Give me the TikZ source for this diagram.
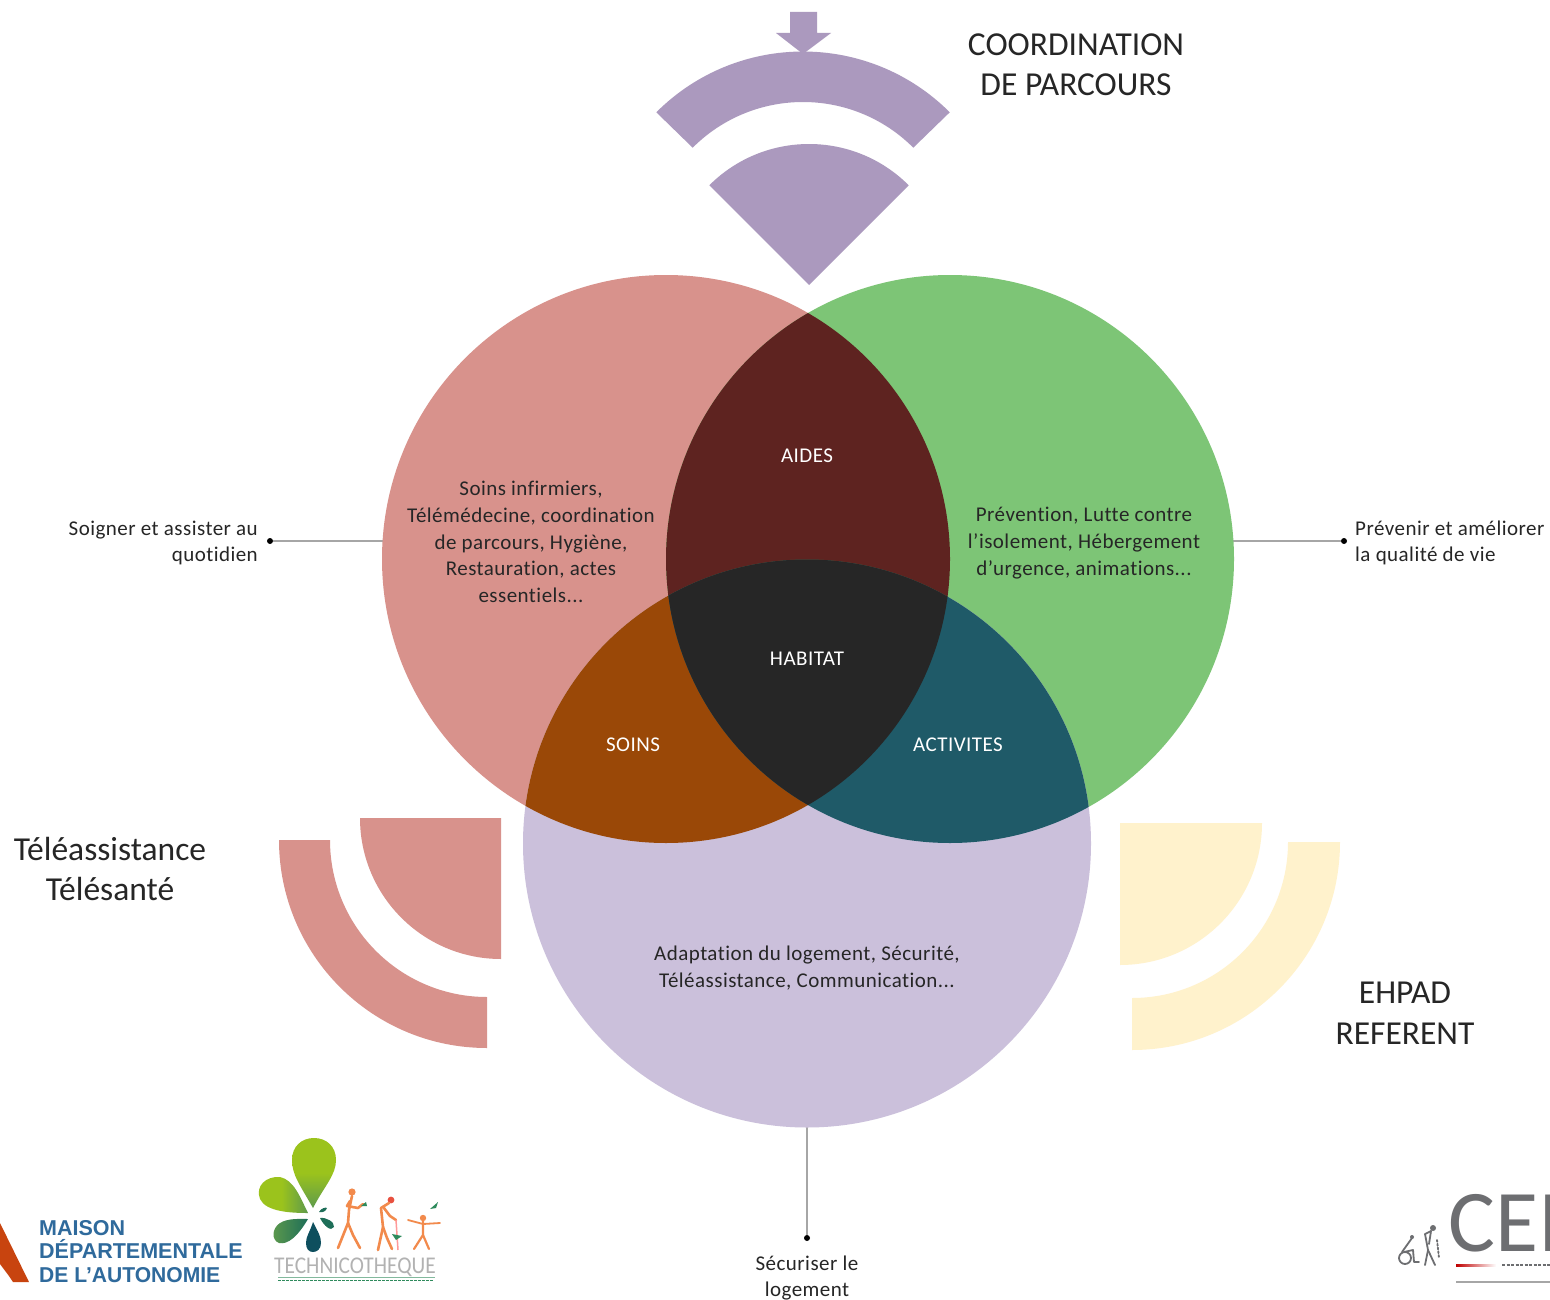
\documentclass[tikz,border=0pt]{standalone}
\usepackage{fontspec}
\setmainfont{Carlito}
\newfontfamily\arialfont{Liberation Sans}
\newfontfamily\spacedfont[LetterSpace=2.2,Ligatures=NoCommon]{Carlito}
\definecolor{cRed}{HTML}{D8928C}
\definecolor{cGreen}{HTML}{7DC576}
\definecolor{cLav}{HTML}{CBC0DB}
\definecolor{cPurple}{HTML}{AB99BE}
\definecolor{cCream}{HTML}{FFF2CC}
\definecolor{cRG}{HTML}{5E2320}
\definecolor{cRL}{HTML}{9A4807}
\definecolor{cGL}{HTML}{1F5A68}
\definecolor{cAll}{HTML}{262626}
\definecolor{cLine}{HTML}{A6A6A6}
\definecolor{cText}{HTML}{262626}
\definecolor{cMdph}{HTML}{2F6A9C}
\definecolor{cMdphO}{HTML}{C8440F}
\definecolor{cLeaf}{HTML}{9BC31C}
\definecolor{cLeafD}{HTML}{5E9A4C}
\definecolor{cLeafE}{HTML}{2E8A5C}
\definecolor{cLeafF}{HTML}{1E6E58}
\definecolor{cTeal}{HTML}{0E4F5E}
\definecolor{cOr}{HTML}{F28A4C}
\definecolor{cRd}{HTML}{E8503F}
\definecolor{cCei}{HTML}{6D6E71}
\tikzset{
  big/.style={circle,inner sep=0pt,minimum size=568pt},
  dotnode/.style={circle,fill=black,inner sep=0pt,minimum size=6pt},
  conn/.style={draw=cLine,line width=2.4pt},
  small/.style={text=cText,align=center,font=\spacedfont\fontsize{21}{26.7}\selectfont,inner sep=0pt},
  smallw/.style={small,text=white},
  large/.style={text=cText,align=center,font=\fontsize{33.5}{40.5}\selectfont,inner sep=0pt},
  fig/.style={draw=cOr,line width=2.6pt,line cap=round,line join=round},
  cei/.style={draw=cCei,line width=1.8pt,line cap=round,line join=round},
}
\begin{document}
\begin{tikzpicture}[x=1pt,y=-1pt]
\useasboundingbox (0,0) rectangle (1550,1300);
\begin{scope}
\clip (0,0) rectangle (1550,1300);
\fill[white] (0,0) rectangle (1550,1300);
% dots and connectors (under the circles)
\node[dotnode] (dotL) at (270,541) {};
\node[dotnode] (dotR) at (1344,541) {};
\node[dotnode] (dotB) at (807,1238) {};
\coordinate (cR) at (666,559);
\coordinate (cG) at (950,559);
\coordinate (cL) at (807,843.5);
\draw[conn] (dotL) -- (dotL -| cR);
\draw[conn] (dotR) -- (dotR -| cG);
\draw[conn] (dotB) -- (cL);
% circles
\node[big,fill=cRed] (red) at (cR) {};
\node[big,fill=cGreen] (green) at (cG) {};
\node[big,fill=cLav] (lav) at (cL) {};
\begin{scope}\clip (cR) circle (284pt);\fill[cRG] (cG) circle (284pt);\end{scope}
\begin{scope}\clip (cR) circle (284pt);\fill[cRL] (cL) circle (284pt);\end{scope}
\begin{scope}\clip (cG) circle (284pt);\fill[cGL] (cL) circle (284pt);\end{scope}
\begin{scope}\clip (cR) circle (284pt);\clip (cG) circle (284pt);\fill[cAll] (cL) circle (284pt);\end{scope}
% top shapes
\fill[cPurple] (790,12) -- (817,12) -- (817,33) -- (831,33) -- (803,54) -- (776,33) -- (790,33) -- cycle;
\fill[cPurple] (656.3,112.3) arc[start angle=135,end angle=45,radius=207.5pt] -- (913.3,147.7) arc[start angle=45,end angle=135,radius=156pt] -- cycle;
\fill[cPurple] (809,285) -- (709.3,185.3) arc[start angle=135,end angle=45,radius=141pt] -- cycle;
% left shapes
\fill[cRed] (501,818) -- (360,818) arc[start angle=180,end angle=270,radius=141pt] -- cycle;
\fill[cRed] (279,840) arc[start angle=180,end angle=270,radius=208pt] -- (487,997) arc[start angle=270,end angle=180,radius=157pt] -- cycle;
% right shapes
\fill[cCream] (1120,823) -- (1262,823) arc[start angle=0,end angle=-90,radius=142pt] -- cycle;
\fill[cCream] (1340,842) arc[start angle=0,end angle=-90,radius=208pt] -- (1132,998) arc[start angle=-90,end angle=0,radius=156pt] -- cycle;
% texts
\node[large] (tCoord) at (1076,65) {COORDINATION\\DE PARCOURS};
\node[large] (tTele) at (110,869) {Téléassistance\\Télésanté};
\node[large] (tEhpad) at (1405,1013) {EHPAD\\REFERENT};
\node[small] (tSoins) at (531,542) {Soins infirmiers,\\Télémédecine, coordination\\de parcours, Hygiène,\\Restauration, actes\\essentiels...};
\node[small] (tPrev) at (1084,543) {Prévention, Lutte contre\\l’isolement, Hébergement\\d’urgence, animations...};
\node[small] (tAdapt) at (807,968) {Adaptation du logement, Sécurité,\\Téléassistance, Communication...};
\node[small,align=right,anchor=east] (tSoigner) at (258,543) {Soigner et assister au\\quotidien};
\node[small,align=left,anchor=west] (tPrevenir) at (1355,543) {Prévenir et améliorer\\la qualité de vie};
\node[small] (tSecu) at (807,1278) {Sécuriser le\\logement};
\node[smallw] (tAides) at (807,456) {AIDES};
\node[smallw] (tHab) at (807,659) {HABITAT};
\node[smallw] (tSoinsB) at (633,745) {SOINS};
\node[smallw] (tAct) at (958,745) {ACTIVITES};
% MDA logo
\fill[cMdphO] (0,1223) -- (29,1282) -- (13,1282) -- (9,1276) -- (0,1264) -- cycle;
\node[anchor=base west,inner sep=0pt,text=cMdph,font=\arialfont\bfseries\fontsize{21.5}{23}\selectfont] (m1) at (39,1235) {MAISON};
\node[anchor=base west,inner sep=0pt,text=cMdph,font=\arialfont\bfseries\fontsize{21.5}{23}\selectfont] (m2) at (39,1258) {DÉPARTEMENTALE};
\node[anchor=base west,inner sep=0pt,text=cMdph,font=\arialfont\bfseries\fontsize{21.5}{23}\selectfont,xscale=0.98] (m3) at (39,1282) {DE L’AUTONOMIE};
% Technicotheque leaves
\shade[top color=cLeaf,bottom color=cLeafD,middle color=cLeaf] (313,1208) .. controls (300,1185) and (292,1175) .. (292,1160) .. controls (292,1146) and (302,1138) .. (314,1138) .. controls (326,1138) and (336,1146) .. (336,1160) .. controls (336,1175) and (325,1185) .. (313,1208) -- cycle;
\shade[left color=cLeaf,right color=cLeafD,middle color=cLeaf] (308,1213) .. controls (292,1213) and (266,1212) .. (260,1199) .. controls (255,1186) and (266,1176) .. (280,1177) .. controls (294,1180) and (300,1197) .. (308,1213) -- cycle;
\shade[left color=cLeafD,right color=cLeafF] (308,1219) .. controls (298,1236) and (288,1245) .. (279,1243) .. controls (271,1240) and (272,1228) .. (280,1223) .. controls (288,1218) and (300,1219) .. (308,1219) -- cycle;
\fill[cTeal] (313,1222) .. controls (318,1232) and (321,1236) .. (321,1243) .. controls (321,1249) and (317,1252) .. (313,1252) .. controls (309,1252) and (306,1249) .. (306,1243) .. controls (306,1236) and (310,1232) .. (313,1222) -- cycle;
\fill[cLeafF] (320,1218) .. controls (326,1217) and (335,1222) .. (334,1227) .. controls (331,1232) and (324,1226) .. (320,1218) -- cycle;
\fill[cLeafF] (319,1212) .. controls (321,1208) and (326,1207) .. (327,1208) .. controls (326,1211) and (323,1213) .. (319,1212) -- cycle;
% Technicotheque figures
\fill[cOr] (352,1192) circle (3.6pt);
\draw[fig] (352,1196) -- (349,1210) -- (348,1223) -- (338,1248);
\draw[fig] (348,1223) -- (353,1235) -- (360,1248);
\draw[fig] (350,1201) -- (347,1206) -- (358,1208) -- (363,1204);
\fill[cLeafE] (361,1206) -- (366,1202) -- (367,1206) -- cycle;
\fill[cRd] (391,1200) circle (3.4pt);
\draw[fig] (389,1203) -- (381,1208) -- (383,1227) -- (378,1250);
\draw[fig] (383,1227) -- (387,1238) -- (392,1249);
\draw[fig] (384,1208) -- (390,1216) -- (396,1220);
\draw[draw=pink!80!red,line width=1.5pt] (396,1220) -- (398,1250);
\fill[cLeafE] (392,1234) -- (402,1236) -- (396,1240) -- cycle;
\fill[cOr] (423,1218) circle (3.2pt);
\draw[fig,line width=2.2pt] (423,1221) -- (423,1235) -- (414,1249);
\draw[fig,line width=2.2pt] (423,1235) -- (429,1249);
\draw[fig,line width=1.8pt] (408,1220) -- (423,1224) -- (440,1223);
\fill[cLeafE] (430,1209) -- (438,1202) -- (436,1208) -- cycle;
\node[anchor=base,inner sep=0pt,text=black!30,font=\fontsize{24}{26}\selectfont,xscale=0.89] (tTech) at (355,1273) {TECHNICOTHEQUE};
\draw[cLeafE!60,line width=0.5pt] (278,1277) -- (435,1277);
\draw[cLeafE,line width=1.4pt,dash pattern=on 3pt off 1pt] (278,1280.5) -- (434,1280.5);
% CEI logo
\node[anchor=base west,inner sep=0pt,text=cCei,font=\fontsize{88}{90}\selectfont] (tCei) at (1448,1251) {CEI};
\shade[left color=red!75!black,right color=white] (1456,1264) rectangle (1496,1266.5);
\draw[cCei,line width=1.2pt,dash pattern=on 3pt off 1.5pt] (1502,1265) -- (1550,1265);
\draw[black!35,line width=1.2pt] (1456,1282) -- (1550,1282);
\draw[cei] (1405,1258) circle (6pt);
\draw[cei] (1402,1252) -- (1412,1238);
\fill[cCei] (1412,1237) circle (2pt);
\draw[cei] (1404,1252) -- (1413,1250) -- (1414,1262) -- (1419,1262);
\fill[cCei] (1433,1228) circle (3pt);
\draw[cei] (1431,1231) -- (1425,1234) -- (1428,1250) -- (1425,1265);
\draw[cei] (1428,1250) -- (1435,1265);
\draw[cei] (1431,1231) -- (1429,1244);
\draw[cei,dotted] (1437,1240) -- (1439,1258);
\end{scope}
\end{tikzpicture}
\end{document}
